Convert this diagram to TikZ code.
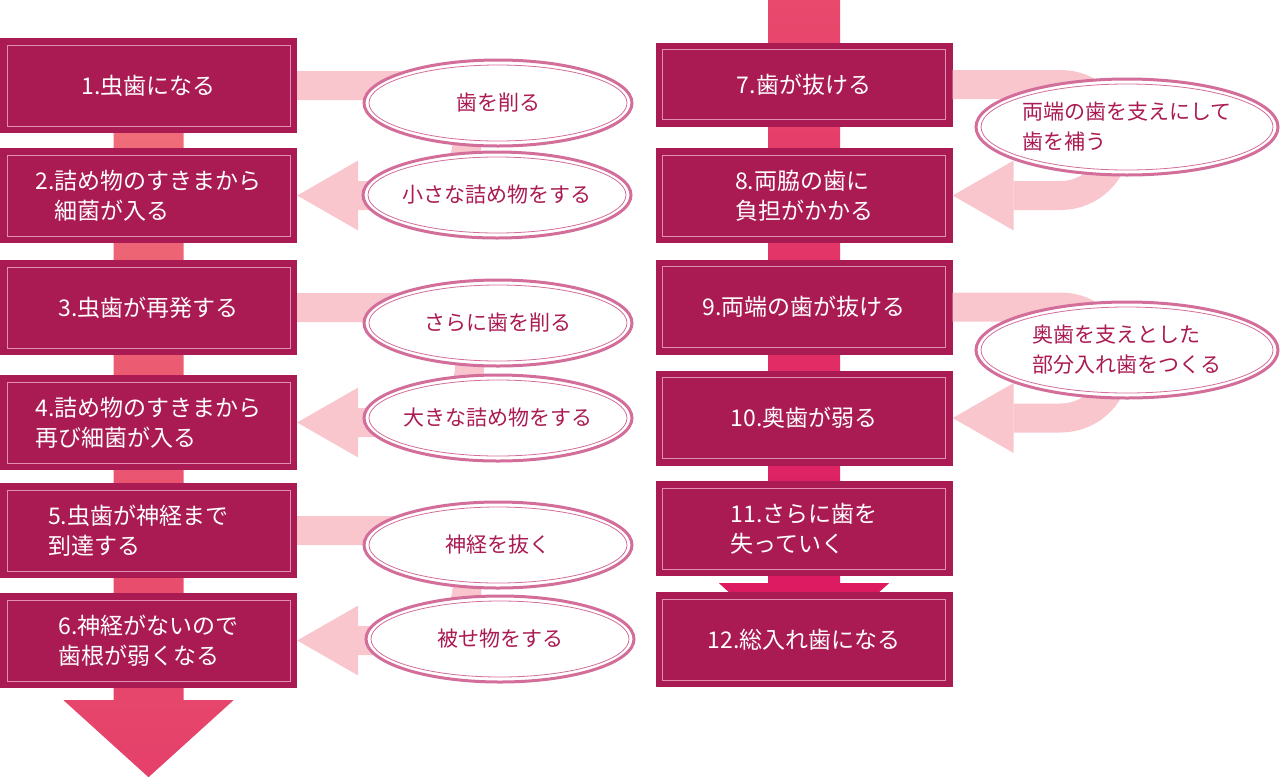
\documentclass[tikz,border=0pt]{standalone}
\usepackage{fontspec}
\setmainfont{Noto Sans CJK JP}
\usetikzlibrary{shapes.geometric,arrows.meta,backgrounds,calc}

\definecolor{boxred}{HTML}{AA1B53}
\definecolor{framepink}{HTML}{E08FB0}
\definecolor{ovalpink}{HTML}{D36E9B}
\definecolor{turnpink}{HTML}{F8C6CC}
\definecolor{barlefttop}{HTML}{EF6C78}
\definecolor{barleftbot}{HTML}{E5406A}
\definecolor{barrighttop}{HTML}{E9496D}
\definecolor{barrightbot}{HTML}{DA1560}

\tikzset{
  stepbox/.style={rectangle, fill=boxred, text=white, minimum width=297pt,
    minimum height=95pt, inner sep=0pt, align=left,
    font=\fontsize{23}{30}\selectfont,
    path picture={\draw[framepink, line width=0.8pt]
      ([shift={(7pt,7pt)}]path picture bounding box.south west) rectangle
      ([shift={(-7pt,-7pt)}]path picture bounding box.north east);}},
  oval/.style={ellipse, draw=ovalpink, line width=3pt, fill=white, text=boxred,
    minimum width=268pt, minimum height=86pt, inner sep=0pt, align=left,
    font=\fontsize{21}{30}\selectfont,
    path picture={\draw[ovalpink, line width=0.8pt]
      let \p1=($(path picture bounding box.north east)-(path picture bounding box.center)$) in
      (path picture bounding box.center) ellipse [x radius=\x1-5pt, y radius=\y1-5pt];}},
  uturn/.style={draw=turnpink, line width=29pt,
    -{Triangle[length=61pt,width=70pt,line width=0pt]}},
}

\begin{document}
\begin{tikzpicture}[x=1pt,y=1pt]
\useasboundingbox (0,0) rectangle (1280,-777);

% left column
\node[stepbox] (b1) at (148.5,-85.5) {1.虫歯になる};
\node[stepbox] (b2) at (148.5,-195.5) {2.詰め物のすきまから\\\hspace*{0.85em}細菌が入る};
\node[stepbox] (b3) at (148.5,-307.5) {3.虫歯が再発する};
\node[stepbox] (b4) at (148.5,-422.5) {4.詰め物のすきまから\\再び細菌が入る};
\node[stepbox] (b5) at (148.5,-530.5) {5.虫歯が神経まで\hspace*{0.9em}\\到達する};
\node[stepbox] (b6) at (148.5,-640.5) {6.神経がないので\\歯根が弱くなる};

% right column
\node[stepbox, minimum height=84pt] (b7) at (804,-84.5) {7.歯が抜ける};
\node[stepbox] (b8) at (804,-195.5) {8.両脇の歯に\\負担がかかる};
\node[stepbox] (b9) at (804,-307) {9.両端の歯が抜ける};
\node[stepbox] (b10) at (804,-418) {10.奥歯が弱る};
\node[stepbox] (b11) at (804,-528.5) {11.さらに歯を\\失っていく};
\node[stepbox] (b12) at (804,-639.5) {12.総入れ歯になる};

% main flow bars
\begin{scope}[on background layer]
\shade[top color=barlefttop, bottom color=barleftbot]
  ([xshift=-35pt]b1.south) -- ([xshift=-35pt,yshift=-12pt]b6.south) -- ++(-50,0)
  -- ([yshift=-89pt]b6.south) -- ([xshift=85pt,yshift=-12pt]b6.south) -- ++(-50,0)
  -- ([xshift=35pt]b1.south) -- cycle;
\shade[top color=barrighttop, bottom color=barrightbot]
  ([xshift=-36pt,yshift=43pt]b7.north) -- ([xshift=-36pt,yshift=-7pt]b11.south) -- ++(-49,0)
  -- ([yshift=-84pt]b11.south) -- ([xshift=85pt,yshift=-7pt]b11.south) -- ++(-49,0)
  -- ([xshift=36pt,yshift=43pt]b7.north) -- cycle;
\end{scope}

% treatment loops
\draw[uturn] (b1.east) -- ++(115,0) arc[start angle=90, end angle=-90, radius=55] -- (b2.east);
\draw[uturn] (b3.east) -- ++(115,0) arc[start angle=90, end angle=-90, radius=57.5] -- (b4.east);
\draw[uturn] (b5.east) -- ++(115,0) arc[start angle=90, end angle=-90, radius=55] -- (b6.east);
\draw[uturn] (b7.east) -- ++(108,0) arc[start angle=90, end angle=-90, radius=55.5] -- (b8.east);
\draw[uturn] (b9.east) -- ++(108,0) arc[start angle=90, end angle=-90, radius=55.5] -- (b10.east);

% treatments
\node[oval] (o1) at (498,-103) {歯を削る};
\node[oval] (o2) at (497,-195) {小さな詰め物をする};
\node[oval] (o3) at (498,-323) {さらに歯を削る};
\node[oval] (o4) at (498,-418) {大きな詰め物をする};
\node[oval] (o5) at (498,-545) {神経を抜く};
\node[oval] (o6) at (500,-639) {被せ物をする};
\node[oval, minimum width=302pt, minimum height=96pt] (o7) at (1127,-127) {両端の歯を支えにして\\歯を補う};
\node[oval, minimum width=302pt, minimum height=96pt] (o8) at (1127,-350) {奥歯を支えとした\\部分入れ歯をつくる};
\end{tikzpicture}
\end{document}
